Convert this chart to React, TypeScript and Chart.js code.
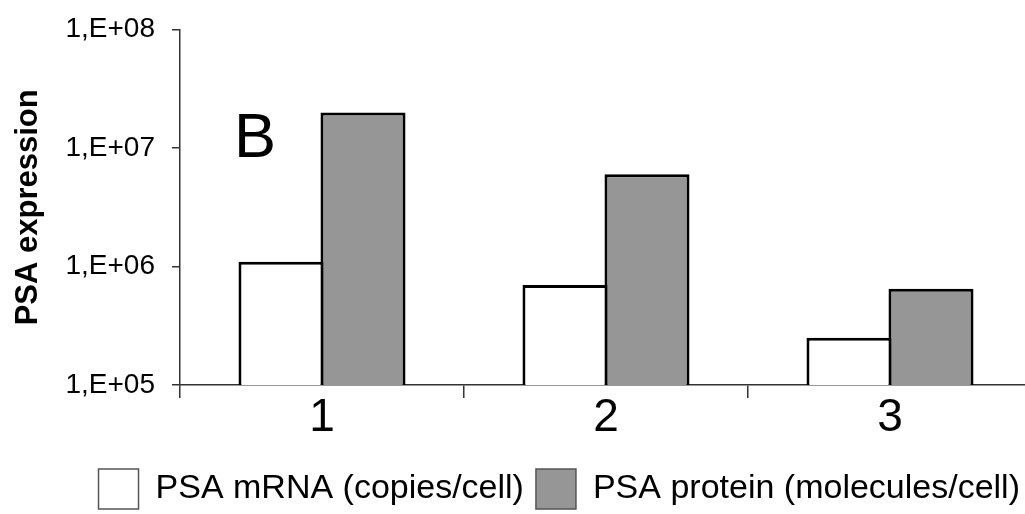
import React, { useEffect, useRef } from 'react';
import { Chart, registerables } from 'chart.js';

Chart.register(...registerables);

const categories = ['1', '2', '3'];
const mrnaValues = [1.1e6, 7.0e5, 2.5e5];
const proteinValues = [2.0e7, 6.0e6, 6.5e5];
const yTickValues = [1e5, 1e6, 1e7, 1e8];
const yTickLabels = ['1,E+05', '1,E+06', '1,E+07', '1,E+08'];
const seriesNames = ['PSA mRNA (copies/cell)', 'PSA protein (molecules/cell)'];
const seriesColors = ['#ffffff', '#969696'];
const panelLabel = 'B';
const yTitle = 'PSA expression';

const FONT = '"Liberation Sans", Arial, sans-serif';

const panelLabelPlugin = {
  id: 'panelLabel',
  afterDatasetsDraw(chart: any) {
    const { ctx, chartArea } = chart;
    ctx.save();
    ctx.font = `63px ${FONT}`;
    ctx.fillStyle = '#000';
    ctx.textBaseline = 'alphabetic';
    ctx.textAlign = 'left';
    ctx.fillText(panelLabel, chartArea.left + 54, chartArea.top + 127);
    ctx.restore();
  },
};

export default function App() {
  const ref = useRef<HTMLCanvasElement | null>(null);

  useEffect(() => {
    if (!ref.current) return;
    const chart = new Chart(ref.current, {
      type: 'bar',
      data: {
        labels: categories,
        datasets: [
          {
            label: seriesNames[0],
            data: mrnaValues,
            backgroundColor: seriesColors[0],
            borderColor: '#000',
            borderWidth: 3,
            categoryPercentage: 0.5775,
            barPercentage: 1.037,
          },
          {
            label: seriesNames[1],
            data: proteinValues,
            backgroundColor: seriesColors[1],
            borderColor: '#000',
            borderWidth: 3,
            categoryPercentage: 0.5775,
            barPercentage: 1.037,
          },
        ],
      },
      options: {
        animation: false,
        responsive: true,
        maintainAspectRatio: false,
        layout: { padding: { left: 0, top: 29, right: 0, bottom: 0 } },
        plugins: {
          tooltip: { enabled: false },
          legend: {
            position: 'bottom',
            align: 'end',
            labels: {
              boxWidth: 40,
              boxHeight: 40,
              padding: 12,
              color: '#000',
              font: { family: FONT, size: 34 },
              generateLabels: (c: any) =>
                Chart.defaults.plugins.legend.labels
                  .generateLabels(c)
                  .map((l: any) => ({ ...l, lineWidth: 1.5, strokeStyle: '#555' })),
            },
          },
        },
        scales: {
          x: {
            type: 'category',
            afterFit: (scale: any) => {
              scale.height = 72;
            },
            grid: {
              display: true,
              drawOnChartArea: false,
              offset: true,
              tickLength: 13,
              color: '#333',
              lineWidth: 1.5,
            },
            border: { display: true, color: '#333', width: 1.5 },
            ticks: {
              font: { family: FONT, size: 46 },
              color: '#000',
              padding: -7,
              maxRotation: 0,
            },
          },
          y: {
            type: 'logarithmic',
            min: 1e5,
            max: 1e8,
            afterFit: (scale: any) => {
              scale.width = 180;
            },
            afterBuildTicks: (scale: any) => {
              scale.ticks = yTickValues.map((v) => ({ value: v }));
            },
            grid: {
              drawOnChartArea: false,
              tickLength: 8,
              color: '#333',
              lineWidth: 1.5,
            },
            border: { display: true, color: '#333', width: 1.5 },
            ticks: {
              font: { family: FONT, size: 28, lineHeight: 0.9 },
              color: '#000',
              padding: 17,
              callback: (v: any) => {
                const i = yTickValues.indexOf(Number(v));
                return i >= 0 ? yTickLabels[i] : '';
              },
            },
            title: {
              display: true,
              text: yTitle,
              color: '#000',
              font: { family: FONT, size: 31, weight: 'bold' },
              padding: { top: 10, bottom: 1 },
            },
          },
        },
      } as any,
      plugins: [panelLabelPlugin],
    });
    return () => chart.destroy();
  }, []);

  return (
    <div
      style={{
        position: 'absolute',
        left: 0,
        top: 0,
        width: 1025,
        height: 514,
        overflow: 'hidden',
        background: '#fff',
      }}
    >
      <div style={{ position: 'relative', width: 1032, height: 519 }}>
        <canvas ref={ref} />
      </div>
    </div>
  );
}
